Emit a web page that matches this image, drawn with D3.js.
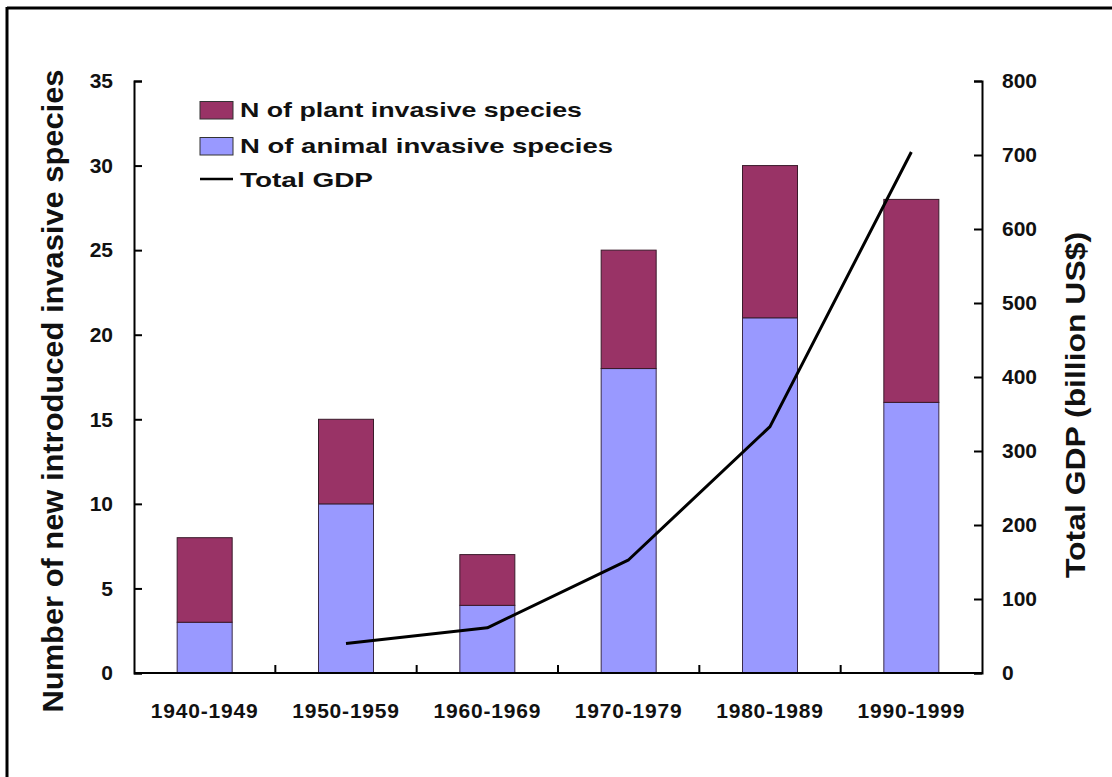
<!DOCTYPE html>
<html>
<head>
<meta charset="utf-8">
<script src="https://cdn.jsdelivr.net/npm/d3@7"></script>
<style>
  html, body { margin: 0; padding: 0; background: #fff; }
  svg { display: block; }
  text { font-family: Arial, "Liberation Sans", sans-serif; font-weight: bold; fill: #111; }
</style>
</head>
<body>
<svg id="chart" width="1112" height="777"></svg>
<script>
// Decades on the x axis
const decades = ["1940-1949", "1950-1959", "1960-1969", "1970-1979", "1980-1989", "1990-1999"];
// Newly introduced invasive species per decade
const animalSpecies = [3, 10, 4, 18, 21, 16];
const plantSpecies  = [5, 5, 3, 7, 9, 12];
// Total GDP (billion US$), no value for the 1940s
const totalGDP = [null, 40, 61, 153, 333, 704];
// Axis tick values
const leftTicks  = [0, 5, 10, 15, 20, 25, 30, 35];
const rightTicks = [0, 100, 200, 300, 400, 500, 600, 700, 800];

const svg = d3.select("#chart");
const plotLeft = 134, plotRight = 982, plotTop = 81, plotBottom = 673;

const x = d3.scaleBand().domain(decades).range([plotLeft, plotRight]).padding(0);
const yL = d3.scaleLinear().domain([0, 35]).range([plotBottom, plotTop]);
const yR = d3.scaleLinear().domain([0, 800]).range([plotBottom, plotTop]);
const barW = 55;

const plantColor = "#993366";
const animalColor = "#9999ff";

// partial frame (top and left edges)
svg.append("line").attr("x1", 7).attr("x2", 1112).attr("y1", 8).attr("y2", 8)
  .attr("stroke", "#000").attr("stroke-width", 3);
svg.append("line").attr("x1", 7).attr("x2", 7).attr("y1", 7).attr("y2", 777)
  .attr("stroke", "#000").attr("stroke-width", 3);

// stacked bars
const rows = decades.map((d, i) => ({ d, animal: animalSpecies[i], plant: plantSpecies[i] }));
const bars = svg.append("g");
bars.selectAll("rect.animal").data(rows).join("rect")
  .attr("class", "animal")
  .attr("x", r => x(r.d) + x.bandwidth() / 2 - barW / 2)
  .attr("width", barW)
  .attr("y", r => yL(r.animal))
  .attr("height", r => yL(0) - yL(r.animal))
  .attr("fill", animalColor).attr("stroke", "#3a2a4a").attr("stroke-width", 1);
bars.selectAll("rect.plant").data(rows).join("rect")
  .attr("class", "plant")
  .attr("x", r => x(r.d) + x.bandwidth() / 2 - barW / 2)
  .attr("width", barW)
  .attr("y", r => yL(r.animal + r.plant))
  .attr("height", r => yL(r.animal) - yL(r.animal + r.plant))
  .attr("fill", plantColor).attr("stroke", "#3a1a2a").attr("stroke-width", 1);

// GDP line
const gdpPts = decades.map((d, i) => ({ d, v: totalGDP[i] }));
svg.append("path")
  .datum(gdpPts)
  .attr("fill", "none").attr("stroke", "#000").attr("stroke-width", 3)
  .attr("stroke-linejoin", "round")
  .attr("d", d3.line()
    .defined(p => p.v != null)
    .x(p => x(p.d) + x.bandwidth() / 2)
    .y(p => yR(p.v)));

// left axis
const gL = svg.append("g").attr("transform", `translate(${plotLeft},0)`)
  .call(d3.axisLeft(yL).tickValues(leftTicks).tickSize(-8).tickPadding(21));
// right axis
const gR = svg.append("g").attr("transform", `translate(${plotRight},0)`)
  .call(d3.axisRight(yR).tickValues(rightTicks).tickSize(-8).tickPadding(20));
[gL, gR].forEach(g => {
  g.select(".domain").attr("stroke", "#000").attr("stroke-width", 2);
  g.selectAll(".tick line").attr("stroke", "#000").attr("stroke-width", 2);
  g.selectAll("text").attr("font-size", 21).attr("font-family", "Arial, 'Liberation Sans', sans-serif")
    .attr("font-weight", "bold").attr("fill", "#111");
});

// bottom axis: baseline, ticks at decade boundaries, centred labels
const gB = svg.append("g");
gB.append("line").attr("x1", plotLeft).attr("x2", plotRight).attr("y1", plotBottom).attr("y2", plotBottom)
  .attr("stroke", "#000").attr("stroke-width", 2);
gB.selectAll("line.bound").data(decades.slice(1)).join("line")
  .attr("class", "bound")
  .attr("x1", d => x(d)).attr("x2", d => x(d))
  .attr("y1", plotBottom).attr("y2", plotBottom - 8)
  .attr("stroke", "#000").attr("stroke-width", 2);
gB.selectAll("text").data(decades).join("text")
  .attr("x", d => x(d) + x.bandwidth() / 2)
  .attr("y", 718)
  .attr("text-anchor", "middle")
  .attr("font-size", 21)
  .attr("letter-spacing", 0.8)
  .text(d => d);

// axis titles
svg.append("text")
  .attr("transform", "translate(63,391) rotate(-90)")
  .attr("text-anchor", "middle")
  .attr("font-size", 29)
  .attr("textLength", 643).attr("lengthAdjust", "spacingAndGlyphs")
  .text("Number of new introduced invasive species");
svg.append("text")
  .attr("transform", "translate(1085,405) rotate(-90)")
  .attr("text-anchor", "middle")
  .attr("font-size", 28)
  .attr("textLength", 346).attr("lengthAdjust", "spacingAndGlyphs")
  .text("Total GDP (billion US$)");

// legend
const legend = svg.append("g");
const legendItems = [
  { label: "N of plant invasive species", type: "rect", color: plantColor, y: 117, w: 342 },
  { label: "N of animal invasive species", type: "rect", color: animalColor, y: 153, w: 373 },
  { label: "Total GDP", type: "line", color: "#000", y: 187, w: 133 }
];
legendItems.forEach(it => {
  if (it.type === "rect") {
    legend.append("rect").attr("x", 200).attr("y", it.y - 15.5).attr("width", 33).attr("height", 17.5)
      .attr("fill", it.color).attr("stroke", "#333").attr("stroke-width", 1);
  } else {
    legend.append("line").attr("x1", 200).attr("x2", 233).attr("y1", it.y - 8).attr("y2", it.y - 8)
      .attr("stroke", it.color).attr("stroke-width", 2.5);
  }
  legend.append("text").attr("x", 240).attr("y", it.y)
    .attr("font-size", 21)
    .attr("textLength", it.w).attr("lengthAdjust", "spacingAndGlyphs")
    .text(it.label);
});
</script>
</body>
</html>
